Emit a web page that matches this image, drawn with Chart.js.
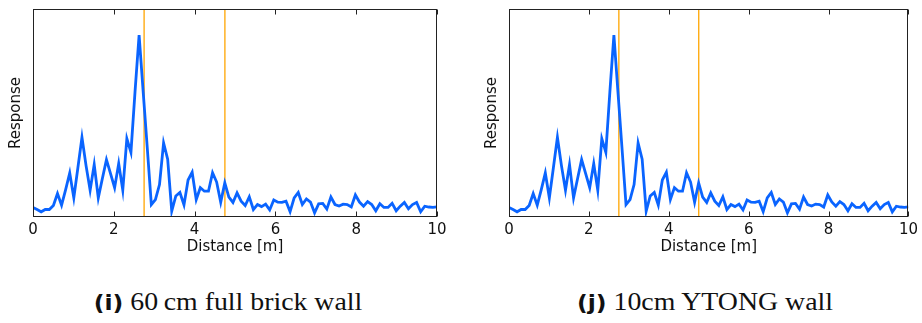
<!DOCTYPE html>
<html>
<head>
<meta charset="utf-8">
<script src="https://cdn.jsdelivr.net/npm/chart.js@4.4.1/dist/chart.umd.min.js"></script>
<style>
  html, body { margin: 0; padding: 0; background: #fff; }
  body { width: 922px; height: 323px; position: relative; overflow: hidden; }
  canvas { position: absolute; top: 0; }
  #brick { left: 0; }
  #ytong { left: 476px; }
  .cap {
    position: absolute; top: 287px; white-space: nowrap;
    font-family: "Liberation Serif", serif; font-size: 26px; color: #111;
    transform: translateX(-50%) scaleX(1.07);
  }
  .cap b { font-family: "DejaVu Sans", sans-serif; font-weight: bold; font-size: 22px; }
</style>
</head>
<body>
<canvas id="brick" width="460" height="262"></canvas>
<canvas id="ytong" width="446" height="262"></canvas>
<div class="cap" style="left:228px"><b>(i)</b> 60&#8201;cm full brick wall</div>
<div class="cap" style="left:705px"><b>(j)</b> 10cm YTONG wall</div>
<script>
// Sampling grid: 100 range bins spread evenly over 0–10 m
const distances = Array.from({ length: 100 }, (_, i) => i * 10 / 99);
const xTicks = [0, 2, 4, 6, 8, 10];
const wallMarkers = [2.75, 4.75];

// Normalised response, 60 cm full brick wall
const responseBrick = [
  0.046, 0.036, 0.025, 0.036, 0.036, 0.055, 0.113, 0.057, 0.132, 0.212,
  0.092, 0.237, 0.383, 0.247, 0.129, 0.252, 0.092, 0.185, 0.276, 0.209,
  0.141, 0.257, 0.129, 0.377, 0.311, 0.602, 0.875, 0.602, 0.333, 0.060,
  0.084, 0.156, 0.356, 0.278, 0.028, 0.101, 0.118, 0.058, 0.178, 0.215,
  0.084, 0.141, 0.124, 0.124, 0.213, 0.168, 0.071, 0.164, 0.096, 0.070,
  0.116, 0.076, 0.055, 0.097, 0.036, 0.060, 0.050, 0.062, 0.034, 0.082,
  0.071, 0.070, 0.076, 0.026, 0.092, 0.118, 0.060, 0.087, 0.072, 0.020,
  0.063, 0.065, 0.038, 0.096, 0.060, 0.053, 0.062, 0.060, 0.048, 0.106,
  0.072, 0.052, 0.074, 0.060, 0.030, 0.064, 0.046, 0.046, 0.066, 0.030,
  0.052, 0.070, 0.040, 0.060, 0.070, 0.025, 0.052, 0.048, 0.046, 0.049
];

// Normalised response, 10 cm YTONG wall
const responseYtong = [
  0.046, 0.036, 0.025, 0.036, 0.036, 0.055, 0.113, 0.057, 0.132, 0.212,
  0.092, 0.237, 0.383, 0.247, 0.129, 0.252, 0.092, 0.185, 0.276, 0.209,
  0.141, 0.257, 0.129, 0.377, 0.311, 0.602, 0.875, 0.602, 0.333, 0.060,
  0.084, 0.156, 0.356, 0.278, 0.028, 0.101, 0.118, 0.058, 0.178, 0.215,
  0.084, 0.141, 0.124, 0.124, 0.213, 0.168, 0.071, 0.164, 0.096, 0.070,
  0.116, 0.076, 0.055, 0.097, 0.036, 0.060, 0.050, 0.062, 0.034, 0.082,
  0.071, 0.070, 0.076, 0.026, 0.092, 0.118, 0.060, 0.087, 0.072, 0.020,
  0.063, 0.065, 0.038, 0.096, 0.060, 0.053, 0.062, 0.060, 0.048, 0.106,
  0.072, 0.052, 0.074, 0.060, 0.030, 0.064, 0.046, 0.046, 0.066, 0.030,
  0.052, 0.070, 0.040, 0.060, 0.070, 0.025, 0.052, 0.048, 0.046, 0.049
];

const AXIS_FONT = { family: '"DejaVu Sans", sans-serif', size: 15 };

// Box frame with inward tick marks on top and bottom edges
const framePlugin = {
  id: 'frame',
  afterDraw(chart) {
    const { ctx, chartArea: a, scales: { x } } = chart;
    ctx.save();
    ctx.strokeStyle = '#222';
    ctx.lineWidth = 1;
    const L = Math.round(a.left) + 0.5, R = Math.round(a.right) - 0.5;
    const T = Math.round(a.top) + 0.5, B = Math.round(a.bottom) - 0.5;
    ctx.strokeRect(L, T, R - L, B - T);
    ctx.beginPath();
    x.ticks.forEach(t => {
      const px = Math.round(x.getPixelForValue(t.value)) + 0.5;
      ctx.moveTo(px, B); ctx.lineTo(px, B - 5);
      ctx.moveTo(px, T); ctx.lineTo(px, T + 5);
    });
    ctx.stroke();
    ctx.restore();
  }
};

function makeChart(id, values, rightPad) {
  const series = distances.map((d, i) => ({ x: d, y: values[i] }));
  const markerSets = wallMarkers.map(m => ({
    data: [{ x: m, y: 0 }, { x: m, y: 1 }],
    borderColor: '#ffa500',
    borderWidth: 1.3,
    pointRadius: 0,
    order: 2
  }));
  return new Chart(document.getElementById(id), {
    type: 'line',
    data: {
      datasets: [
        {
          data: series,
          borderColor: '#0a64ff',
          borderWidth: 2.8,
          pointRadius: 0,
          tension: 0,
          borderJoinStyle: 'miter',
          order: 1
        },
        ...markerSets
      ]
    },
    options: {
      responsive: false,
      animation: false,
      devicePixelRatio: 1,
      layout: { padding: { left: 0, right: rightPad, top: 9, bottom: 0 } },
      plugins: { legend: { display: false }, tooltip: { enabled: false } },
      scales: {
        x: {
          type: 'linear',
          min: 0, max: 10,
          afterBuildTicks: s => { s.ticks = xTicks.map(v => ({ value: v })); },
          afterFit: s => { s.height = 45; },
          grid: { display: false, drawTicks: false },
          border: { display: false },
          ticks: { color: '#111', font: AXIS_FONT, padding: 4, maxRotation: 0 },
          title: {
            display: true, text: 'Distance [m]', color: '#111',
            font: AXIS_FONT, padding: { top: 0, bottom: 6 }
          }
        },
        y: {
          min: 0, max: 1,
          afterFit: s => { s.width = 33; },
          grid: { display: false, drawTicks: false },
          border: { display: false },
          ticks: { display: false },
          title: {
            display: true, text: 'Response', color: '#111',
            font: AXIS_FONT, padding: { top: 7, bottom: 0 }
          }
        }
      }
    },
    plugins: [framePlugin]
  });
}

makeChart('brick', responseBrick, 23);
makeChart('ytong', responseYtong, 10);
</script>
</body>
</html>
